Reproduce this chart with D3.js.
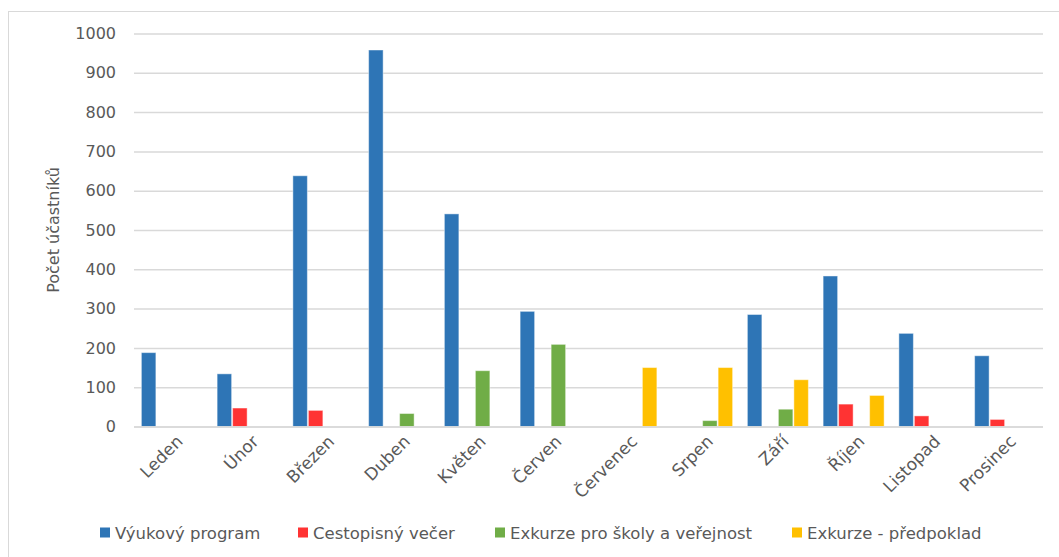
<!DOCTYPE html>
<html>
<head>
<meta charset="utf-8">
<script src="https://cdn.jsdelivr.net/npm/d3@7"></script>
<style>
  html, body { margin: 0; padding: 0; background: #fff; }
  svg { display: block; }
  text { font-family: "DejaVu Sans", "Open Sans", sans-serif; fill: #595959; }
</style>
</head>
<body>
<svg id="chart" width="1059" height="557"></svg>
<script>
// Months (x categories)
const months = ["Leden", "Únor", "Březen", "Duben", "Květen", "Červen",
                "Červenec", "Srpen", "Září", "Říjen", "Listopad", "Prosinec"];

// Series names
const seriesNames = ["Výukový program", "Cestopisný večer",
                     "Exkurze pro školy a veřejnost", "Exkurze - předpoklad"];

// Participants per month for each series
const vyukovyProgram   = [188, 134, 638, 958, 541, 293, 0, 0, 285, 383, 237, 180];
const cestopisnyVecer  = [0, 47, 41, 0, 0, 0, 0, 0, 0, 57, 27, 18];
const exkurzeSkoly     = [0, 0, 0, 33, 142, 209, 0, 15, 44, 0, 0, 0];
const exkurzePredpokl  = [0, 0, 0, 0, 0, 0, 150, 150, 119, 79, 0, 0];

// Y axis ticks
const yTicks = [0, 100, 200, 300, 400, 500, 600, 700, 800, 900, 1000];
const yTitle = "Počet účastníků";

const colors = ["#2E75B6", "#FF3333", "#70AD47", "#FFC000"];
const seriesValues = [vyukovyProgram, cestopisnyVecer, exkurzeSkoly, exkurzePredpokl];

const svg = d3.select("#chart");

// Chart frame
svg.append("rect")
  .attr("x", 8.5).attr("y", 11.5)
  .attr("width", 1070).attr("height", 570)
  .attr("fill", "none").attr("stroke", "#d9d9d9").attr("stroke-width", 1);

const plot = { left: 134, right: 1043, top: 33.5, bottom: 426.5 };

const x0 = d3.scaleBand()
  .domain(months)
  .range([plot.left, plot.right])
  .paddingInner(0.1815)
  .paddingOuter(0.09075);

const x1 = d3.scaleBand()
  .domain(seriesNames)
  .range([0, x0.bandwidth()]);

const y = d3.scaleLinear()
  .domain([0, 1000])
  .range([plot.bottom, plot.top]);

// Gridlines
const yAxis = d3.axisLeft(y)
  .tickValues(yTicks)
  .tickSize(-(plot.right - plot.left))
  .tickPadding(18)
  .tickFormat(d3.format("d"));

const gy = svg.append("g")
  .attr("transform", `translate(${plot.left},0)`)
  .call(yAxis);
gy.select(".domain").remove();
gy.selectAll(".tick line").attr("stroke", "#d9d9d9").attr("stroke-width", 1.5);
gy.selectAll(".tick text")
  .style("font-size", "16px")
  .style("fill", "#595959");

// Y axis title
svg.append("text")
  .attr("transform", `translate(59,230) rotate(-90)`)
  .attr("text-anchor", "middle")
  .style("font-size", "16px")
  .text(yTitle);

// Bars
const rows = months.map((m, i) => ({
  month: m,
  values: seriesNames.map((s, j) => ({ series: s, value: seriesValues[j][i], color: colors[j] }))
}));

const groups = svg.append("g").selectAll("g")
  .data(rows)
  .join("g")
  .attr("transform", d => `translate(${x0(d.month)},0)`);

groups.selectAll("rect")
  .data(d => d.values.filter(v => v.value > 0))
  .join("rect")
  .attr("x", d => x1(d.series) + 0.5)
  .attr("y", d => y(d.value))
  .attr("width", x1.bandwidth() - 1)
  .attr("height", d => y(0) - y(d.value))
  .attr("fill", d => d.color)
  .attr("stroke", "#ffffff")
  .attr("stroke-opacity", 0.45)
  .attr("stroke-width", 1);

// X axis
const xAxis = d3.axisBottom(x0).tickSize(0).tickPadding(0);
const gx = svg.append("g")
  .attr("transform", `translate(0,${plot.bottom})`)
  .call(xAxis);
gx.select(".domain")
  .attr("d", `M${plot.left},0.5H${plot.right}`)
  .attr("stroke", "#d9d9d9").attr("stroke-width", 1.5);
gx.selectAll(".tick text")
  .style("font-size", "17px")
  .style("fill", "#595959")
  .attr("text-anchor", "end")
  .attr("dy", "0")
  .attr("y", 0)
  .attr("transform", "translate(12,16) rotate(-45)");

// Legend: one entry per series along the bottom
const legendX = [100, 298, 495, 792];
const legend = svg.append("g").attr("transform", "translate(0,533)");
seriesNames.forEach((name, i) => {
  const g = legend.append("g").attr("transform", `translate(${legendX[i]},0)`);
  g.append("rect")
    .attr("x", 0).attr("y", -5.5)
    .attr("width", 10).attr("height", 10)
    .attr("fill", colors[i]);
  g.append("text")
    .attr("x", 15).attr("y", 0)
    .attr("dy", "0.35em")
    .style("font-size", "16.5px")
    .text(name);
});
</script>
</body>
</html>
